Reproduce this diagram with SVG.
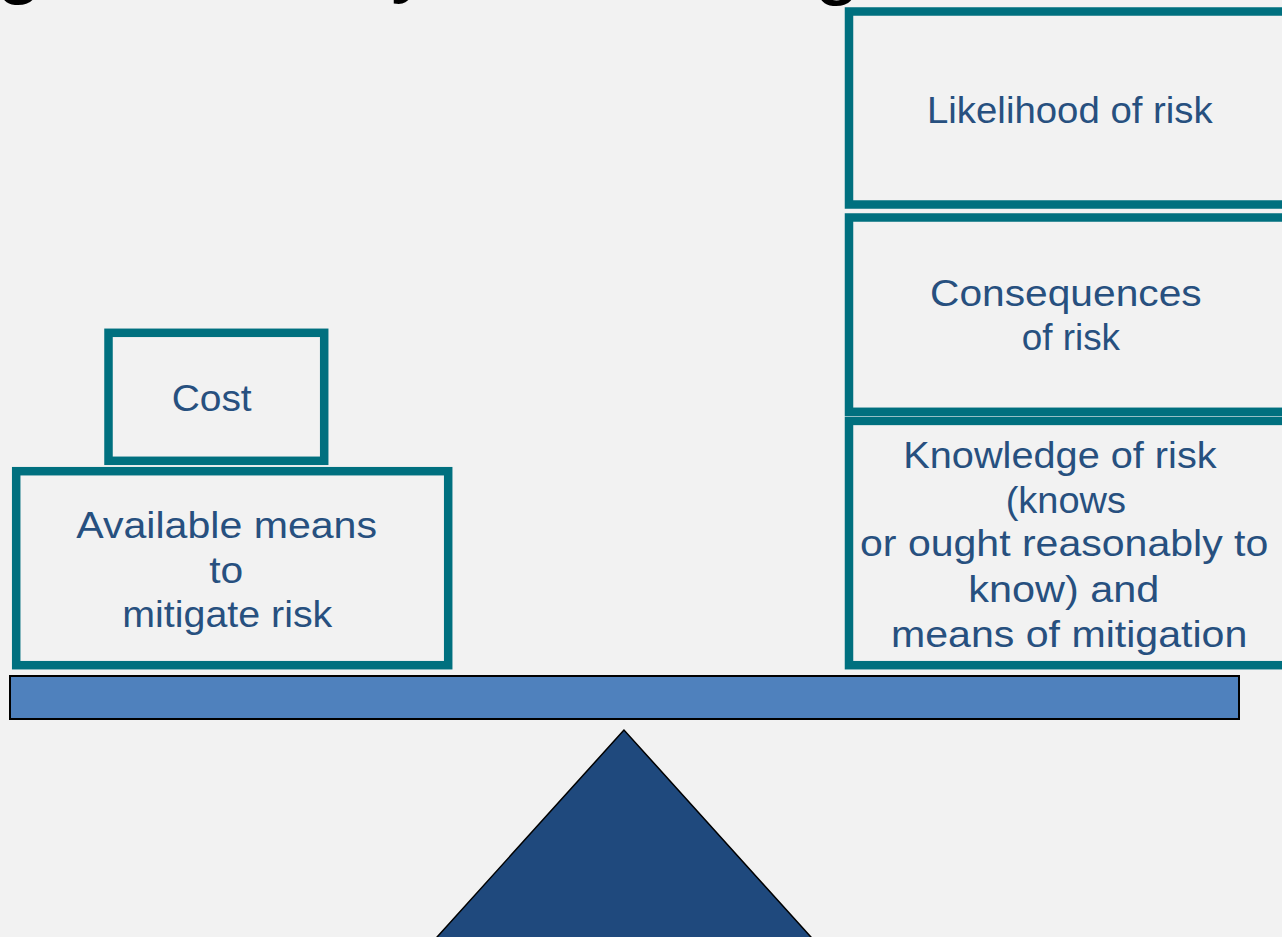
<svg xmlns="http://www.w3.org/2000/svg" width="1282" height="937" viewBox="0 0 1282 937">
<style>
.box{fill:none;stroke:#00707f;stroke-width:8.5}
.t{font-family:"Liberation Sans","DejaVu Sans",sans-serif;font-size:36px;fill:#27507f}
.title{font-family:"Liberation Sans","DejaVu Sans",sans-serif;font-size:84px;fill:#000;text-anchor:middle}
</style>
<rect x="0" y="0" width="1282" height="937" fill="#f2f2f2"/>
<g id="title">
<text class="title" x="19" y="-12">g</text>
<text class="title" x="412" y="-13">y</text>
<text class="title" x="837" y="-11">g</text>
</g>
<g id="fulcrum">
<polygon points="624,730 410,967 838,967" fill="#1f497d" stroke="#000" stroke-width="1.5"/>
</g>
<g id="beam">
<rect x="10" y="676" width="1229" height="43" fill="#4f81bd" stroke="#000" stroke-width="2"/>
</g>
<g id="cost">
<rect class="box" x="108.5" y="332.8" width="215.7" height="128"/>
<text class="t" x="171.7" y="410.7" textLength="80" lengthAdjust="spacingAndGlyphs">Cost</text>
</g>
<g id="available">
<rect class="box" x="16.2" y="471.2" width="432" height="194"/>
<text class="t" x="76.3" y="537.7" textLength="300.7" lengthAdjust="spacingAndGlyphs">Available means</text>
<text class="t" x="209.3" y="582.7" textLength="34" lengthAdjust="spacingAndGlyphs">to</text>
<text class="t" x="122.3" y="626.7" textLength="210" lengthAdjust="spacingAndGlyphs">mitigate risk</text>
</g>
<g id="likelihood">
<rect class="box" x="849" y="11.5" width="450" height="193"/>
<text class="t" x="927" y="122.7" textLength="285.7" lengthAdjust="spacingAndGlyphs">Likelihood of risk</text>
</g>
<g id="consequences">
<rect class="box" x="849" y="217.5" width="450" height="194.3"/>
<text class="t" x="930" y="306" textLength="271.7" lengthAdjust="spacingAndGlyphs">Consequences</text>
<text class="t" x="1021.7" y="350" textLength="98.3" lengthAdjust="spacingAndGlyphs">of risk</text>
</g>
<g id="knowledge">
<rect class="box" x="849" y="420.9" width="450" height="244.3"/>
<text class="t" x="903.3" y="467.7" textLength="313.3" lengthAdjust="spacingAndGlyphs">Knowledge of risk</text>
<text class="t" x="1005.7" y="513.3" textLength="120.3" lengthAdjust="spacingAndGlyphs">(knows</text>
<text class="t" x="860" y="556" textLength="408.3" lengthAdjust="spacingAndGlyphs">or ought reasonably to</text>
<text class="t" x="968.3" y="601.7" textLength="191" lengthAdjust="spacingAndGlyphs">know) and</text>
<text class="t" x="891" y="646.7" textLength="356.3" lengthAdjust="spacingAndGlyphs">means of mitigation</text>
</g>
<g id="connectors"></g>
</svg>
